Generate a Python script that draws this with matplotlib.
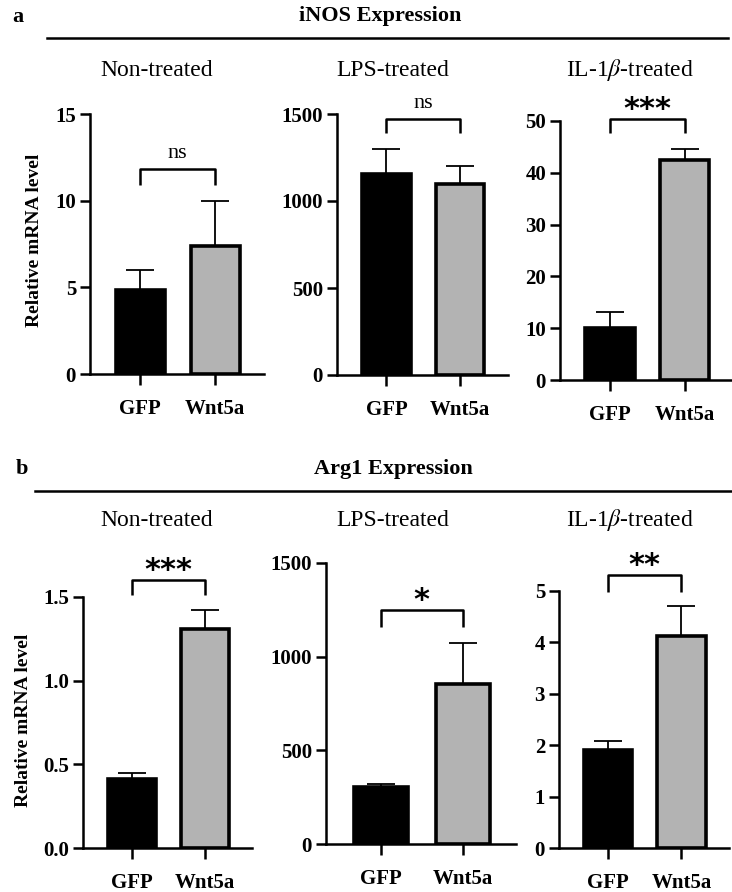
import matplotlib
matplotlib.use("Agg")
import matplotlib.pyplot as plt
import numpy as np

plt.rcParams['font.family'] = 'Liberation Serif'
plt.rcParams['mathtext.fontset'] = 'stix'

W, H = 732, 892

groups = ["GFP", "Wnt5a"]
conditions = ["Non-treated", "LPS-treated", r"IL-1$\beta$-treated"]
bar_colors = ["black", "#b3b3b3"]

# iNOS
inos_mean = [[4.85, 7.4], [1155, 1097], [10.0, 42.5]]
inos_err = [[1.15, 2.6], [145, 104], [3.1, 2.1]]
inos_sig = ["ns", "ns", "***"]
inos_ymax = [15, 1500, 50]
inos_ticks = [[0, 5, 10, 15], [0, 500, 1000, 1500], [0, 10, 20, 30, 40, 50]]

# Arg1
arg1_mean = [[0.41, 1.31], [305, 855], [1.9, 4.13]]
arg1_err = [[0.04, 0.11], [15, 218], [0.18, 0.58]]
arg1_sig = ["***", "*", "**"]
arg1_ymax = [1.5, 1500, 5]
arg1_ticks = [[0.0, 0.5, 1.0, 1.5], [0, 500, 1000, 1500], [0, 1, 2, 3, 4, 5]]

# layout in pixels: left, width, y of zero, y of top
inos_box = [(90, 174, 374, 114), (337, 171, 375, 114), (560, 173, 380, 121)]
arg1_box = [(83, 169, 848, 597), (326, 190, 844, 563), (559, 170, 848, 591)]
# bracket (leg bottom, top) in data units
inos_br = [(10.9, 11.8), (1390, 1470), (47.7, 50.4)]
arg1_br = [(1.51, 1.6), (1158, 1249), (4.98, 5.31)]

fig = plt.figure(figsize=(W / 100, H / 100), dpi=100)


def px_axes(box):
    left, width, y0, ytop = box
    return fig.add_axes([left / W, 1 - y0 / H, width / W, (y0 - ytop) / H])


def draw(ax, means, errs, sig, ymax, ticks, br, decimals):
    x = np.arange(len(groups))
    ax.errorbar(x, means, yerr=[[0, 0], errs], fmt='none', ecolor='black',
                elinewidth=1.3, capsize=10, capthick=1.3, zorder=2)
    ax.bar(x, means, width=0.66, color=bar_colors, edgecolor='black',
           linewidth=2.6, zorder=3)
    ax.set_xlim(-0.67, 1.65)
    ax.set_ylim(0, ymax)
    ax.set_xticks(x)
    ax.set_xticklabels(groups, fontweight='bold', fontsize=15)
    ax.set_yticks(ticks)
    if decimals:
        ax.set_yticklabels([f"{t:.1f}" for t in ticks], fontweight='bold', fontsize=15)
    else:
        ax.set_yticklabels([f"{t:g}" for t in ticks], fontweight='bold', fontsize=15)
    for s in ['top', 'right']:
        ax.spines[s].set_visible(False)
    for s in ['left', 'bottom']:
        ax.spines[s].set_linewidth(1.8)
    ax.tick_params(axis='y', length=7, width=1.8, pad=3)
    ax.tick_params(axis='x', length=8, width=1.8, pad=10)
    leg, top = br
    ax.plot([0, 0, 1, 1], [leg, top, top, leg], color='black', lw=1.8,
            clip_on=False, solid_capstyle='butt')
    if sig == "ns":
        ax.annotate(sig, xy=(0.5, top), xytext=(0, 8), textcoords='offset points',
                    ha='center', va='baseline', fontsize=16, annotation_clip=False)
    else:
        ax.annotate(sig, xy=(0.5, top), xytext=(0, 1), textcoords='offset points',
                    ha='center', va='baseline', fontsize=22, fontweight='bold',
                    family='DejaVu Sans', annotation_clip=False)


for i in range(3):
    ax = px_axes(inos_box[i])
    draw(ax, inos_mean[i], inos_err[i], inos_sig[i], inos_ymax[i], inos_ticks[i], inos_br[i], False)
    ax = px_axes(arg1_box[i])
    draw(ax, arg1_mean[i], arg1_err[i], arg1_sig[i], arg1_ymax[i], arg1_ticks[i], arg1_br[i], i == 0)

# headers
sub_x = [157, 393, 630]
for i in range(3):
    fig.text(sub_x[i] / W, 1 - 70 / H, conditions[i], ha='center', va='center', fontsize=17)
    fig.text(sub_x[i] / W, 1 - 520 / H, conditions[i], ha='center', va='center', fontsize=17)

fig.text(380 / W, 1 - 16 / H, "iNOS Expression", ha='center', va='center', fontsize=16, fontweight='bold')
fig.text(393 / W, 1 - 469 / H, "Arg1 Expression", ha='center', va='center', fontsize=16, fontweight='bold')
fig.text(18 / W, 1 - 17 / H, "a", ha='center', va='center', fontsize=16, fontweight='bold')
fig.text(22 / W, 1 - 469 / H, "b", ha='center', va='center', fontsize=16, fontweight='bold')

fig.add_artist(plt.Line2D([47 / W, 728 / W], [1 - 38 / H, 1 - 38 / H], color='black', lw=1.8))
fig.add_artist(plt.Line2D([35 / W, 1.0], [1 - 491 / H, 1 - 491 / H], color='black', lw=1.8))

fig.text(35 / W, 1 - 240 / H, "Relative mRNA level", rotation=90, ha='center', va='center',
         fontsize=14, fontweight='bold')
fig.text(24 / W, 1 - 720 / H, "Relative mRNA level", rotation=90, ha='center', va='center',
         fontsize=14, fontweight='bold')

fig.savefig("out.png", dpi=100)
